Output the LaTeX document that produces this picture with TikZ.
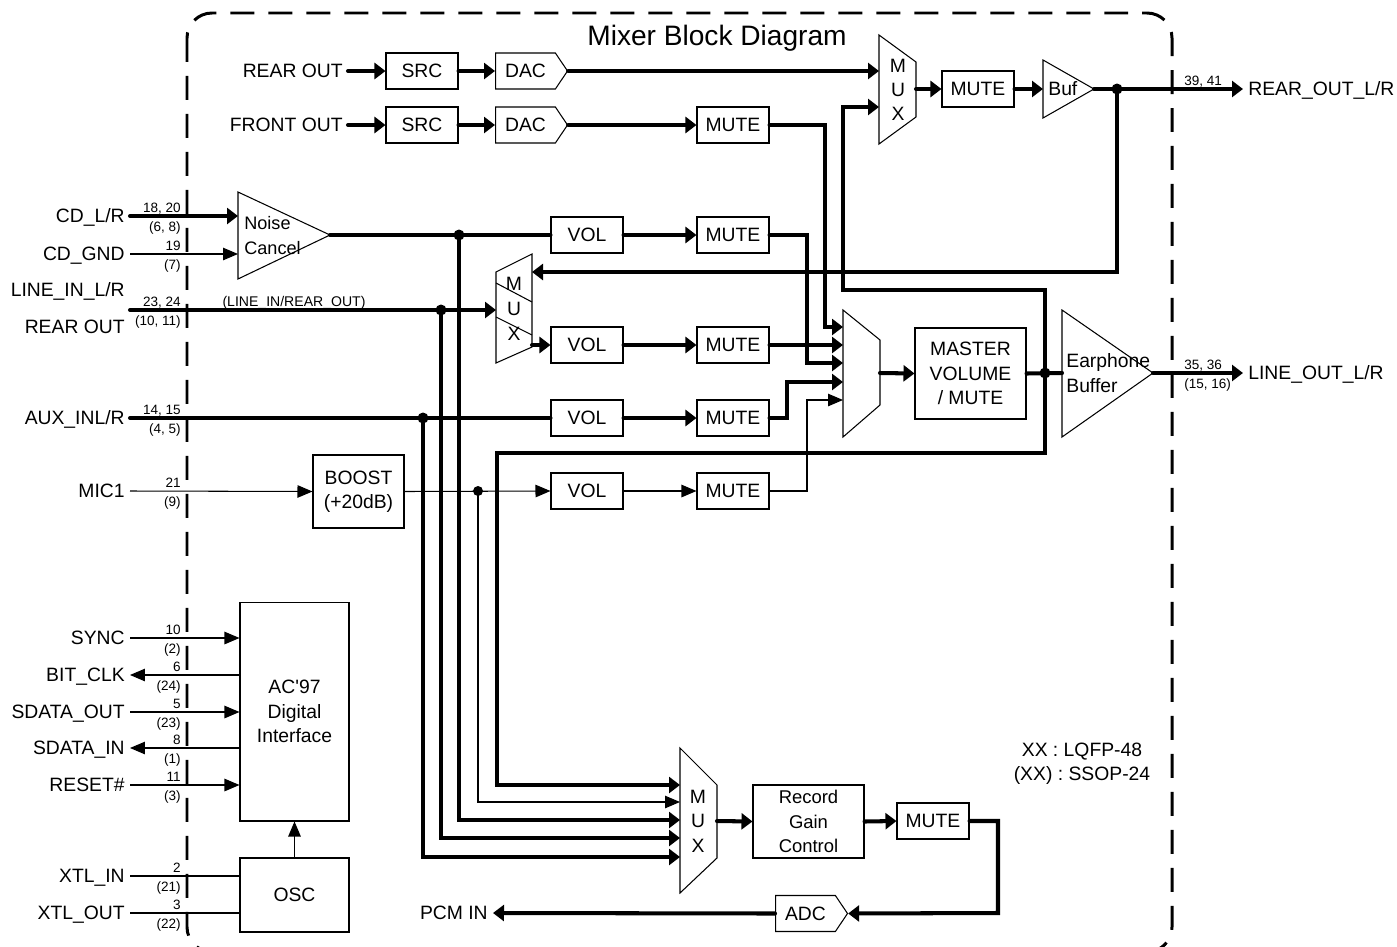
\documentclass[tikz,border=0pt]{standalone}
\usepackage{fontspec}
\setmainfont{Liberation Sans}
\usetikzlibrary{arrows.meta, positioning, shapes.symbols, calc}

\begin{document}
\begin{tikzpicture}[x=0.02cm, y=-0.02cm,
  blk/.style={draw, line width=0.6pt, minimum width=1.44cm, minimum height=0.72cm, inner sep=0pt, font=\fontsize{11}{13.8}\selectfont},
  conv/.style={blk, signal, signal to=east, signal pointer angle=112, anchor=west},
  lbl/.style={font=\fontsize{11}{13.8}\selectfont, inner sep=0.1cm, text height=7.9pt, text depth=0pt},
  stack/.style={font=\fontsize{11}{13.8}\selectfont, inner sep=0pt, align=center},
  pinno/.style={font=\fontsize{7.7}{9}\selectfont, inner sep=0pt},
  thk/.style={line width=2.3pt, line cap=round},
  thn/.style={line width=0.6pt},
  arr/.style={-{Triangle[length=0.22cm, width=0.32cm]}},
  arrthin/.style={-{Triangle[length=0.3cm, width=0.25cm]}},
  jdot/.style={circle, fill, inner sep=0pt, minimum size=0.22cm},
  chipedge/.style={line width=1.7pt, dash pattern=on 0.48cm off 0.28cm, rounded corners=0.5cm}
]
  \useasboundingbox (0,0) rectangle (1397,947);
  \draw[chipedge] (187,13) rectangle (1172,952);
  \node[font=\fontsize{16}{19}\selectfont, anchor=base, inner sep=0pt] (title) at (717,45) {Mixer Block Diagram};

  % playback path
  \node[lbl, anchor=east] (rearsrc) at (348,71) {REAR OUT};
  \node[blk] (src1) at (422,71) {SRC};
  \node[conv] (dac1) at (495,71) {DAC};
  \node[lbl, anchor=east] (frontsrc) at (348,125) {FRONT OUT};
  \node[blk] (src2) at (422,125) {SRC};
  \node[conv] (dac2) at (495,125) {DAC};
  \node[blk] (mutefr) at (733,125) {MUTE};
  \draw[thk, arr] (rearsrc.east) -- (src1.west);
  \draw[thk, arr] (src1.east) -- (dac1.west);
  \draw[thk, arr] (frontsrc.east) -- (src2.west);
  \draw[thk, arr] (src2.east) -- (dac2.west);
  \draw[thk, arr] (dac2.east) -- (mutefr.west);

  % rear out mux and buffer
  \draw[thn] (879,35) -- (916,62) -- (916,117) -- (879,144) -- cycle;
  \node[stack] (muxa) at (898,90) {M\\U\\X};
  \coordinate (muxa-in1) at (879,71);
  \coordinate (muxa-in2) at (879,107);
  \coordinate (muxa-out) at (916,89);
  \node[blk] (mutea) at (978,89) {MUTE};
  \draw[thn] (1043,60) -- (1094,89) -- (1043,118) -- cycle;
  \coordinate (buf-in) at (1043,89);
  \coordinate (buf-out) at (1094,89);
  \node[lbl, anchor=west, inner sep=0pt] (buftxt) at (1048,89) {Buf};
  \node[jdot] (jbuf) at (1117,89) {};
  \coordinate (rearout) at (1243,89);
  \node[lbl, anchor=west] (rearoutlbl) at (rearout) {REAR\_OUT\_L/R};
  \draw[thk, arr] (dac1.east) -- (muxa-in1);
  \draw[thk, arr] (muxa-out) -- (mutea.west);
  \draw[thk, arr] (mutea.east) -- (buf-in);
  \draw[thk, arr] (buf-out) -- (rearout);

  % analog inputs
  \draw[thn] (238,192) -- (330,235) -- (238,279) -- cycle;
  \coordinate (nc-in1) at (238,216);
  \coordinate (nc-in2) at (238,254);
  \coordinate (nc-out) at (330,235);
  \node[font=\fontsize{10.3}{14.2}\selectfont, anchor=west, align=left, inner sep=0pt] (nctxt) at (244,236) {Noise\\Cancel};
  \node[lbl, anchor=east] (cdlr) at (130,216) {CD\_L/R};
  \node[lbl, anchor=east] (cdgnd) at (130,254) {CD\_GND};
  \node[lbl, anchor=east] (linein) at (130,290) {LINE\_IN\_L/R};
  \node[lbl, anchor=east] (rearin) at (130,327) {REAR OUT};
  \coordinate (linepin) at (130,310);
  \node[font=\fontsize{8}{10}\selectfont, anchor=base, inner sep=0pt] (lineann) at (294,306) {(LINE\_IN/REAR\_OUT)};
  \node[lbl, anchor=east] (aux) at (130,418) {AUX\_INL/R};
  \node[lbl, anchor=east] (mic) at (130,491) {MIC1};
  \node[blk, minimum width=1.82cm, minimum height=1.46cm, align=center] (boost) at (358.5,491.5) {BOOST\\(+20dB)};

  \draw[thn] (496,272) -- (532,254) -- (532,347) -- (496,363) -- cycle;
  \draw[thn] (496,283) -- (532,302) (496,317) -- (532,335);
  \node[stack, font=\fontsize{11}{14.2}\selectfont] (muxb) at (514,309) {M\\U\\X};
  \coordinate (muxb-in1) at (496,310);
  \coordinate (muxb-in2) at (532,272);
  \coordinate (muxb-out) at (532,345);

  \node[blk] (vol1) at (587,235) {VOL};
  \node[blk] (mute1) at (733,235) {MUTE};
  \node[blk] (vol2) at (587,345) {VOL};
  \node[blk] (mute2) at (733,345) {MUTE};
  \node[blk] (vol3) at (587,418) {VOL};
  \node[blk] (mute3) at (733,418) {MUTE};
  \node[blk] (vol4) at (587,491) {VOL};
  \node[blk] (mute4) at (733,491) {MUTE};

  \node[jdot] (jcd) at (459,235) {};
  \node[jdot] (jline) at (441,310) {};
  \node[jdot] (jaux) at (423,418) {};
  \node[jdot, minimum size=0.2cm] (jmic) at (478,491) {};

  \draw[thk, arr] (cdlr.east) -- (nc-in1);
  \draw[thn, arrthin] (cdgnd.east) -- (nc-in2);
  \draw[thk] (nc-out) -- (vol1.west);
  \draw[thk, arr] (linepin) -- (muxb-in1);
  \draw[thk, arr] (muxb-out) -- (vol2.west);
  \draw[thk] (aux.east) -- (vol3.west);
  \draw[thn, arrthin] (mic.east) -- (boost.west);
  \draw[thn, arrthin] (boost.east) -- (vol4.west);
  \foreach \n in {1,2,3} {
    \draw[thk, arr] (vol\n.east) -- (mute\n.west);
  }
  \draw[thn, arrthin] (vol4.east) -- (mute4.west);

  % output mixer
  \draw[thn] (843,310) -- (880,340) -- (880,405) -- (843,437) -- cycle;
  \foreach \y [count=\i] in {327,345,363,382,400} {
    \coordinate (mix-in\i) at (843,\y);
  }
  \coordinate (mix-out) at (880,373);
  \node[blk, minimum width=2.22cm, minimum height=1.82cm, align=center] (mst) at (970.5,373.5) {MASTER\\VOLUME\\/ MUTE};
  \node[jdot] (jmst) at (1045,373) {};
  \draw[thn] (1062,310) -- (1153,373) -- (1062,437) -- cycle;
  \coordinate (ear-in) at (1062,373);
  \coordinate (ear-out) at (1153,373);
  \node[font=\fontsize{11}{14.2}\selectfont, anchor=west, align=left, inner sep=0pt] (eartxt) at (1066,373) {Earphone\\Buffer};
  \coordinate (lineout) at (1243,373);
  \node[lbl, anchor=west] (lineoutlbl) at (lineout) {LINE\_OUT\_L/R};

  \draw[thk, arr] (mutefr.east) -| (825,327) -- (mix-in1);
  \draw[thk, arr] (mute2.east) -- (mix-in2);
  \draw[thk, arr] (mute1.east) -| (807,363) -- (mix-in3);
  \draw[thk, arr] (mute3.east) -| (787,382) -- (mix-in4);
  \draw[thn, arrthin] (mute4.east) -| (807,400) -- (mix-in5);
  \draw[thk, arr] (mix-out) -- (mst.west);
  \draw[thk] (mst.east) -- (ear-in);
  \draw[thk, arr] (ear-out) -- (lineout);

  % loop-backs
  \draw[thk, arr] (jbuf.center) |- (muxb-in2);
  \draw[thk, arr] (jmst.center) |- (843,290) |- (muxa-in2);

  % record path
  \draw[thn] (680,748) -- (717,785) -- (717,858) -- (680,893) -- cycle;
  \node[stack, font=\fontsize{11}{14}\selectfont] (muxc) at (698,821) {M\\U\\X};
  \foreach \y [count=\i] in {785,802,820,838,857} {
    \coordinate (muxc-in\i) at (680,\y);
  }
  \coordinate (muxc-out) at (717,821);
  \node[blk, minimum width=2.22cm, minimum height=1.46cm, align=center, font=\fontsize{10.5}{13.8}\selectfont] (rgc) at (808.5,821.5) {Record\\Gain\\Control};
  \node[blk] (mutec) at (933,821) {MUTE};
  \node[conv] (adc) at (775,913.5) {ADC};
  \coordinate (pcm) at (493,913);
  \node[lbl, anchor=east] (pcmlbl) at (pcm) {PCM IN};

  \draw[thk, arr] (jmst.center) |- (497,453) |- (muxc-in1);
  \draw[thn, arrthin] (jmic.center) |- (muxc-in2);
  \draw[thk, arr] (jcd.center) |- (muxc-in3);
  \draw[thk, arr] (jline.center) |- (muxc-in4);
  \draw[thk, arr] (jaux.center) |- (muxc-in5);
  \draw[thk, arr] (muxc-out) -- (rgc.west);
  \draw[thk, arr] (rgc.east) -- (mutec.west);
  \draw[thk, arr] (mutec.east) -| (998,913) -- (adc.east);
  \draw[thk, arr] (adc.west) -- (pcm);

  % digital interface
  \node[blk, minimum width=2.18cm, minimum height=4.38cm, align=center] (ac) at (294.5,711.5) {AC\textquotesingle97\\Digital\\Interface};
  \node[blk, minimum width=2.18cm, minimum height=1.48cm] (osc) at (294.5,895) {OSC};
  \node[lbl, anchor=east] (sync) at (130,638) {SYNC};
  \node[lbl, anchor=east] (bitclk) at (130,675) {BIT\_CLK};
  \node[lbl, anchor=east] (sdout) at (130,712) {SDATA\_OUT};
  \node[lbl, anchor=east] (sdin) at (130,748) {SDATA\_IN};
  \node[lbl, anchor=east] (reset) at (130,785) {RESET\#};
  \node[lbl, anchor=east] (xtlin) at (130,876) {XTL\_IN};
  \node[lbl, anchor=east] (xtlout) at (130,913) {XTL\_OUT};
  \draw[thn, arrthin] (sync.east) -- (sync.east -| ac.west);
  \draw[thn, arrthin] (bitclk.east -| ac.west) -- (bitclk.east);
  \draw[thn, arrthin] (sdout.east) -- (sdout.east -| ac.west);
  \draw[thn, arrthin] (sdin.east -| ac.west) -- (sdin.east);
  \draw[thn, arrthin] (reset.east) -- (reset.east -| ac.west);
  \draw[thn] (xtlin.east) -- (xtlin.east -| osc.west);
  \draw[thn] (xtlout.east) -- (xtlout.east -| osc.west);
  \draw[thn, arrthin] (osc.north) -- (ac.south);

  % pin numbers
  \foreach \py/\pa/\pb [count=\i] in {216/{18, 20}/{(6, 8)}, 254/{19}/{(7)}, 310/{23, 24}/{(10, 11)},
      418/{14, 15}/{(4, 5)}, 491/{21}/{(9)}, 638/{10}/{(2)}, 675/{6}/{(24)}, 712/{5}/{(23)},
      748/{8}/{(1)}, 785/{11}/{(3)}, 876/{2}/{(21)}, 913/{3}/{(22)}} {
    \node[pinno, anchor=base east] (pa\i) at (181,\py-4) {\pa};
    \node[pinno, anchor=base east] (pb\i) at (181,\py+15) {\pb};
  }
  \node[pinno, anchor=base west] (pr1) at (1184,85) {39, 41};
  \node[pinno, anchor=base west] (pr2) at (1184,369) {35, 36};
  \node[pinno, anchor=base west] (pr3) at (1184,388) {(15, 16)};

  \node[stack, font=\fontsize{11}{13.8}\selectfont] (pkg) at (1082,764) {XX : LQFP-48\\(XX) : SSOP-24};
\end{tikzpicture}
\end{document}
